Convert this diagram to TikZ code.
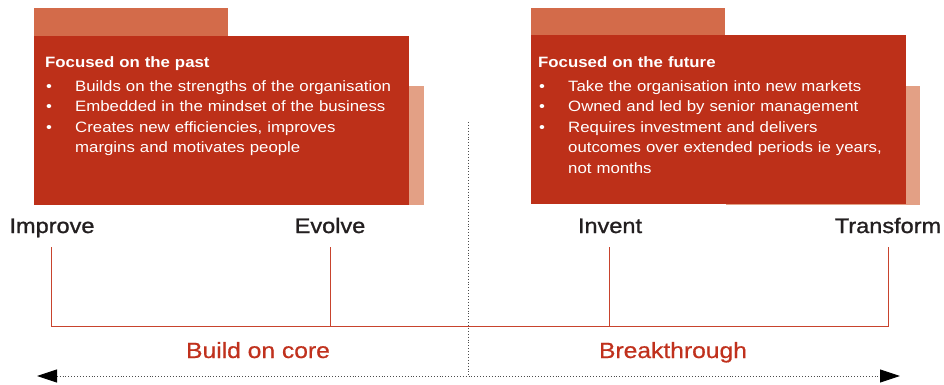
\documentclass[tikz,border=0pt]{standalone}
\usepackage{fontspec}
\setmainfont[FakeStretch=1.12]{Liberation Sans}
\newfontfamily\labelfont[FakeStretch=1.12,FakeBold=1.2]{Liberation Sans}
\newfontfamily\phasefont[FakeStretch=1.12,FakeBold=0.6]{Liberation Sans}
\usepackage{tikz}
\usetikzlibrary{arrows.meta}

\definecolor{boxred}{HTML}{BD3019}
\definecolor{tabred}{HTML}{D36B4A}
\definecolor{salmon}{HTML}{E3A085}
\definecolor{linered}{HTML}{C8432D}
\definecolor{labelred}{HTML}{C0311D}
\definecolor{darktext}{HTML}{231F20}

\newcommand{\bul}{\hspace*{1pt}\makebox[29pt][l]{\textbullet}}
\newcommand{\hang}{\hspace*{30pt}}

\begin{document}
\begin{tikzpicture}[x=1pt, y=-1pt,
    boxtext/.style = {anchor=base west, inner sep=0pt, text=white, text width=380pt, align=left, font=\fontsize{15}{20.5}\selectfont},
    stage/.style = {anchor=base, inner sep=0pt, text=darktext, font=\labelfont\fontsize{21}{24}\selectfont},
    phase/.style = {anchor=base, inner sep=0pt, text=labelred, font=\phasefont\fontsize{22}{26}\selectfont},
    tick/.style = {draw=linered, line width=1pt},
    guide/.style = {draw=black!70, dotted, line width=0.9pt},
    tip/.style = {{Triangle[length=20pt,width=13pt,color=black]}-{Triangle[length=20pt,width=13pt,color=black]}}]
    \useasboundingbox (0,0) rectangle (944,385);
    % left block
    \fill[salmon] (409,86) rectangle (424,205);
    \fill[tabred] (34,8) rectangle (228,37);
    \fill[boxred] (34,36) rectangle (409,205);
    % right block
    \fill[salmon] (726,86) rectangle (920,205);
    \fill[tabred] (531,8) rectangle (725,36);
    \fill[boxred] (531,35) rectangle (906,204);
    \node[boxtext] (past) at (45,68) {\textbf{Focused on the past}\\[3pt]
        \bul Builds on the strengths of the organisation\\
        \bul Embedded in the mindset of the business\\
        \bul Creates new efficiencies, improves\\
        \hang margins and motivates people};
    \node[boxtext] (future) at (538,68) {\textbf{Focused on the future}\\[3pt]
        \bul Take the organisation into new markets\\
        \bul Owned and led by senior management\\
        \bul Requires investment and delivers\\
        \hang outcomes over extended periods ie years,\\
        \hang not months};
    % stages
    \node[stage] (improve) at (52,233) {Improve};
    \node[stage] (evolve) at (330,233) {Evolve};
    \node[stage] (invent) at (610,233) {Invent};
    \node[stage] (transform) at (888,233) {Transform};
    \coordinate (t1) at (51,247);
    \coordinate (t2) at (330,247);
    \coordinate (t3) at (609,247);
    \coordinate (t4) at (888,247);
    \coordinate (b1) at (51,326);
    \coordinate (b2) at (330,326);
    \coordinate (b3) at (609,326);
    \coordinate (b4) at (888,326);
    \draw[tick] (t1) -- (b1) -- (b4) -- (t4);
    \draw[tick] (t2) -- (b2);
    \draw[tick] (t3) -- (b3);
    % phases
    \node[phase] (core) at (258,358) {Build on core};
    \node[phase] (breakthrough) at (673,358) {Breakthrough};
    \coordinate (divtop) at (468,122);
    \coordinate (divbot) at (468,376);
    \coordinate (left) at (37,376);
    \coordinate (right) at (900,376);
    \draw[guide] (divtop) -- (divbot);
    \draw[guide, tip] (left) -- (right);
\end{tikzpicture}
\end{document}
